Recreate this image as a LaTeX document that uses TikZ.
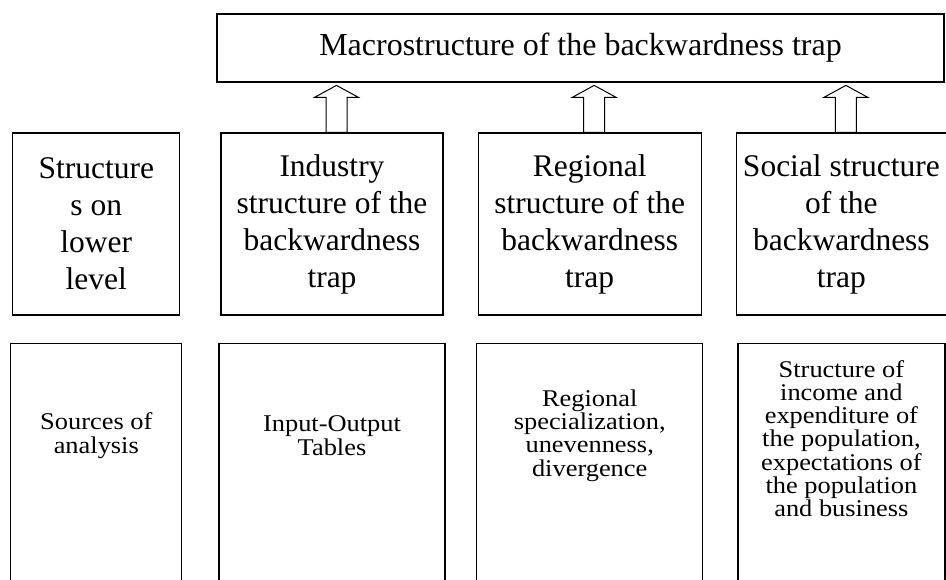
\documentclass[tikz,border=0pt]{standalone}
\usepackage{fontspec}
\setmainfont{Liberation Serif}
\newfontfamily\widefont[FakeStretch=1.1]{Liberation Serif}
\usepackage{tikz}
\usetikzlibrary{positioning, calc}

\begin{document}
\begin{tikzpicture}[
    x=1pt, y=1pt,
    node distance=34pt,
    topbox/.style={draw, line width=1.2pt, minimum width=727pt, minimum height=68pt,
        inner sep=0pt, font=\fontsize{32}{38}\selectfont},
    midbox/.style={draw, line width=1.2pt, align=center, minimum height=182pt,
        inner sep=0pt, font=\fontsize{31.5}{37}\selectfont},
    lowbox/.style={draw, line width=1.2pt, minimum height=260pt, inner sep=0pt},
    lowtext/.style={align=center, inner sep=0pt, font=\widefont\fontsize{24}{23.3}\selectfont},
    hollow/.style={draw, line width=1pt, fill=white, line join=miter}
]
\clip (0,0) rectangle (946,580);
\fill[white] (0,0) rectangle (946,580);
% top level
\node[topbox] (macro) at (580.5,532) {Macrostructure of the backwardness trap};
% structures
\node[midbox, minimum width=222pt] (ind) at (332,356) {Industry\\structure of the\\backwardness\\trap};
\node[midbox, minimum width=167pt, left=40pt of ind] (low) {Structure\\s on\\lower\\level};
\node[midbox, minimum width=223pt, right=of ind] (reg) {Regional\\structure of the\\backwardness\\trap};
\node[midbox, minimum width=210pt, right=of reg] (soc) {Social structure\\of the\\backwardness\\trap};
% sources
\node[lowbox, minimum width=171pt, below=27pt of low] (srcbox) {};
\node[lowbox, minimum width=226pt, below=27pt of ind] (iobox) {};
\node[lowbox, minimum width=226pt, below=27pt of reg] (rsbox) {};
\node[lowbox, minimum width=207pt, below=27pt of soc] (incbox) {};
\node[lowtext] (srctxt) at ($(srcbox.north)+(0,-93)$) {Sources of\\analysis};
\node[lowtext] (iotxt) at ($(iobox.north)+(0,-93)$) {Input-Output\\Tables};
\node[lowtext] (rstxt) at ($(rsbox.north)+(0,-93)$) {Regional\\specialization,\\unevenness,\\divergence};
\node[lowtext] (inctxt) at ($(incbox.north)+(0,-96)$) {Structure of\\income and\\expenditure of\\the population,\\expectations of\\the population\\and business};
% hollow arrows up to the macrostructure
\foreach \b in {ind, reg, soc}
    \draw[hollow] ($(\b.north)+(-6,0)$) -- ++(0,35) -- ++(-11.5,0) -- ++(22,12)
        -- ++(22,-12) -- ++(-11.5,0) -- ++(0,-35) -- cycle;
\end{tikzpicture}
\end{document}
